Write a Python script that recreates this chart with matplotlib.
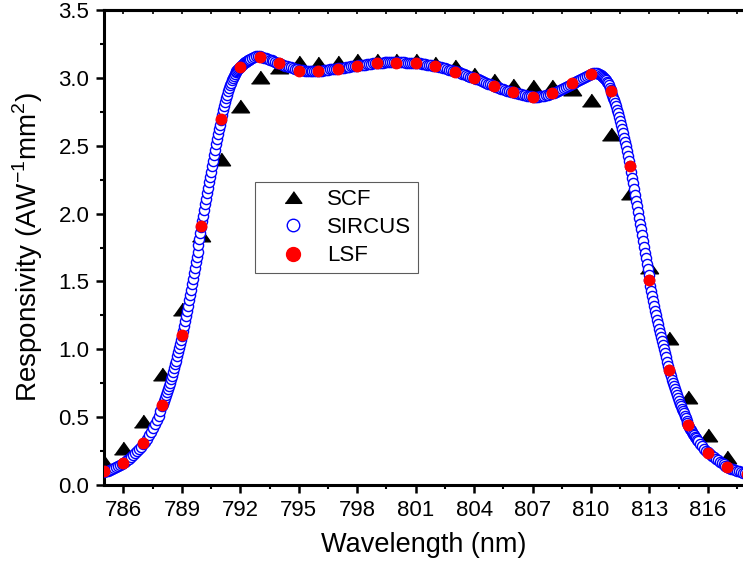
import numpy as np
import matplotlib.pyplot as plt
from matplotlib.lines import Line2D
from matplotlib.ticker import MultipleLocator, FormatStrFormatter

plt.rcParams['font.family'] = ['Liberation Sans', 'DejaVu Sans']
plt.rcParams['mathtext.fontset'] = 'custom'
plt.rcParams['mathtext.rm'] = 'Liberation Sans'

# SCF and LSF: one point per nm
point_wl = list(range(785, 819))
scf = [0.17, 0.27, 0.47, 0.82, 1.30, 1.84, 2.40, 2.79, 3.01, 3.08,
       3.12, 3.11, 3.12, 3.13, 3.13, 3.135, 3.13, 3.11, 3.085, 3.03,
       2.985, 2.95, 2.94, 2.94, 2.92, 2.84, 2.59, 2.15, 1.61, 1.08,
       0.65, 0.37, 0.21, 0.12]
lsf = [0.10, 0.164, 0.31, 0.587, 1.105, 1.91, 2.695, 3.083, 3.156, 3.107,
       3.053, 3.051, 3.068, 3.088, 3.11, 3.112, 3.112, 3.088, 3.046, 3.0,
       2.94, 2.894, 2.862, 2.886, 2.96, 3.031, 2.906, 2.353, 1.51, 0.847,
       0.442, 0.238, 0.13, 0.08]

# SIRCUS: 0.1 nm steps from 785 nm
sircus = [
    0.095, 0.100, 0.106, 0.111, 0.117, 0.124, 0.130, 0.137, 0.145, 0.153,
    0.160, 0.170, 0.181, 0.193, 0.206, 0.219, 0.233, 0.248, 0.265, 0.282,
    0.300, 0.320, 0.342, 0.366, 0.391, 0.417, 0.446, 0.476, 0.509, 0.543,
    0.580, 0.620, 0.662, 0.707, 0.755, 0.806, 0.860, 0.917, 0.977, 1.037,
    1.100, 1.170, 1.245, 1.320, 1.400, 1.480, 1.560, 1.640, 1.720, 1.810,
    1.900, 1.985, 2.070, 2.150, 2.230, 2.310, 2.390, 2.470, 2.550, 2.620,
    2.690, 2.760, 2.820, 2.875, 2.925, 2.965, 3.000, 3.030, 3.050, 3.068,
    3.080, 3.095, 3.108, 3.120, 3.130, 3.140, 3.148, 3.154, 3.158, 3.160,
    3.158, 3.155, 3.150, 3.145, 3.140, 3.134, 3.128, 3.122, 3.116, 3.111,
    3.106, 3.101, 3.096, 3.091, 3.086, 3.081, 3.077, 3.072, 3.068, 3.064,
    3.060, 3.057, 3.055, 3.053, 3.051, 3.050, 3.049, 3.049, 3.049, 3.050,
    3.051, 3.052, 3.054, 3.056, 3.058, 3.060, 3.062, 3.064, 3.066, 3.068,
    3.070, 3.072, 3.074, 3.076, 3.078, 3.080, 3.082, 3.084, 3.086, 3.088,
    3.090, 3.092, 3.094, 3.096, 3.098, 3.100, 3.102, 3.104, 3.106, 3.108,
    3.110, 3.111, 3.112, 3.113, 3.114, 3.114, 3.115, 3.115, 3.115, 3.115,
    3.115, 3.115, 3.115, 3.114, 3.114, 3.113, 3.113, 3.112, 3.111, 3.110,
    3.109, 3.108, 3.106, 3.104, 3.102, 3.100, 3.098, 3.096, 3.094, 3.091,
    3.088, 3.085, 3.081, 3.077, 3.073, 3.069, 3.065, 3.061, 3.057, 3.053,
    3.049, 3.045, 3.040, 3.035, 3.030, 3.025, 3.020, 3.015, 3.010, 3.005,
    3.000, 2.994, 2.988, 2.982, 2.976, 2.970, 2.964, 2.958, 2.952, 2.946,
    2.940, 2.935, 2.930, 2.925, 2.920, 2.915, 2.910, 2.906, 2.902, 2.898,
    2.894, 2.890, 2.886, 2.882, 2.878, 2.875, 2.872, 2.869, 2.866, 2.864,
    2.862, 2.861, 2.861, 2.862, 2.864, 2.866, 2.869, 2.872, 2.876, 2.881,
    2.886, 2.892, 2.898, 2.905, 2.912, 2.919, 2.926, 2.933, 2.940, 2.947,
    2.954, 2.961, 2.968, 2.975, 2.982, 2.990, 2.998, 3.006, 3.014, 3.022,
    3.030, 3.034, 3.035, 3.033, 3.028, 3.020, 3.008, 2.992, 2.972, 2.945,
    2.910, 2.875, 2.835, 2.790, 2.740, 2.685, 2.625, 2.560, 2.495, 2.425,
    2.350, 2.265, 2.180, 2.095, 2.010, 1.925, 1.840, 1.755, 1.670, 1.590,
    1.510, 1.430, 1.355, 1.285, 1.215, 1.150, 1.090, 1.030, 0.970, 0.910,
    0.850, 0.800, 0.750, 0.705, 0.660, 0.620, 0.580, 0.545, 0.510, 0.475,
    0.440, 0.415, 0.390, 0.365, 0.343, 0.322, 0.302, 0.285, 0.268, 0.253,
    0.240, 0.227, 0.215, 0.203, 0.192, 0.181, 0.171, 0.161, 0.152, 0.141,
    0.130, 0.125, 0.120, 0.115, 0.110, 0.105, 0.100, 0.095, 0.090, 0.085,
    0.080]
sircus_wl = np.round(785.0 + 0.1 * np.arange(len(sircus)), 2)

# extra SIRCUS readings on the steep edges (0.1 nm steps, offset by 0.05 nm)
sircus_rise = [
    0.600, 0.641, 0.684, 0.731, 0.780, 0.833, 0.888, 0.947, 1.007, 1.068,
    1.135, 1.207, 1.282, 1.360, 1.440, 1.520, 1.600, 1.680, 1.765, 1.855,
    1.942, 2.027, 2.110, 2.190, 2.270, 2.350, 2.430, 2.510, 2.585, 2.655,
    2.725, 2.790, 2.848, 2.900, 2.945, 2.983, 3.015, 3.040, 3.059, 3.074,
    3.088, 3.102, 3.114, 3.125, 3.135]
sircus_rise_wl = np.round(788.05 + 0.1 * np.arange(len(sircus_rise)), 2)
sircus_fall = [
    3.014, 3.000, 2.982, 2.959, 2.928,
    2.893, 2.855, 2.813, 2.765, 2.713, 2.655, 2.593, 2.528, 2.460, 2.388,
    2.308, 2.223, 2.138, 2.053, 1.968, 1.883, 1.798, 1.713, 1.630, 1.550,
    1.470, 1.393, 1.320, 1.250, 1.183, 1.120, 1.060, 1.000, 0.940, 0.880,
    0.825, 0.775, 0.728, 0.683, 0.640, 0.600, 0.563, 0.528, 0.493, 0.458,
    0.428, 0.403, 0.378, 0.354, 0.333]
sircus_fall_wl = np.round(810.55 + 0.1 * np.arange(len(sircus_fall)), 2)

all_wl = np.concatenate([sircus_wl, sircus_rise_wl, sircus_fall_wl])
all_sircus = np.concatenate([sircus, sircus_rise, sircus_fall])
order = np.argsort(all_wl)

tri = [(-1, -0.7), (1, -0.7), (0, 0.7)]

fig = plt.figure(figsize=(7.43, 5.73), dpi=100)
ax = fig.add_axes([104 / 743, 88 / 573, 639 / 743, 475 / 573])

ax.plot(point_wl, scf, linestyle='none', marker=tri, ms=13, color='black', zorder=2)
ax.plot(all_wl[order], all_sircus[order], linestyle='none', marker='o', ms=7.3,
        mfc='white', mec='blue', mew=1.0, zorder=3)
ax.plot(point_wl, lsf, linestyle='none', marker='o', ms=7.5, color='red',
        mec='red', zorder=4)

ax.set_xlim(785, 817.8)
ax.set_ylim(0, 3.5)
ax.xaxis.set_major_locator(MultipleLocator(3))
ax.xaxis.set_minor_locator(MultipleLocator(1.5))
ax.yaxis.set_major_locator(MultipleLocator(0.5))
ax.yaxis.set_minor_locator(MultipleLocator(0.25))
ax.yaxis.set_major_formatter(FormatStrFormatter('%.1f'))

for side in ['left', 'bottom', 'top']:
    ax.spines[side].set_linewidth(2.2)
ax.spines['right'].set_visible(False)

ax.tick_params(which='major', direction='out', length=5.5, width=1.8,
               labelsize=16, pad=5, top=False, right=False)
ax.tick_params(which='minor', direction='out', length=3, width=1.5,
               top=False, right=False)

top = ax.secondary_xaxis('top')
top.xaxis.set_major_locator(MultipleLocator(1.5))
top.tick_params(direction='in', length=3, width=1.2, labeltop=False)
top.spines['top'].set_linewidth(2.2)

ax.set_xlabel('Wavelength (nm)', fontsize=19.5, labelpad=8)
ax.set_ylabel(r'Responsivity (AW$^{\mathregular{-1}}$mm$^{\mathregular{2}}$)',
              fontsize=20, labelpad=10)

handles = [
    Line2D([], [], linestyle='none', marker=tri, ms=12, color='black'),
    Line2D([], [], linestyle='none', marker='o', ms=9, mfc='white', mec='blue', mew=1.0),
    Line2D([], [], linestyle='none', marker='o', ms=10, color='red'),
]
leg = ax.legend(handles, ['SCF', 'SIRCUS', 'LSF'], loc='upper left',
                bbox_to_anchor=(151 / 639, 303 / 475), borderaxespad=0,
                fontsize=16, frameon=True, fancybox=False, edgecolor='#333333',
                handlelength=2.85, handletextpad=0.08, labelspacing=0.33,
                borderpad=0.3)
leg.get_frame().set_linewidth(0.8)

fig.savefig('out.png', dpi=100)
